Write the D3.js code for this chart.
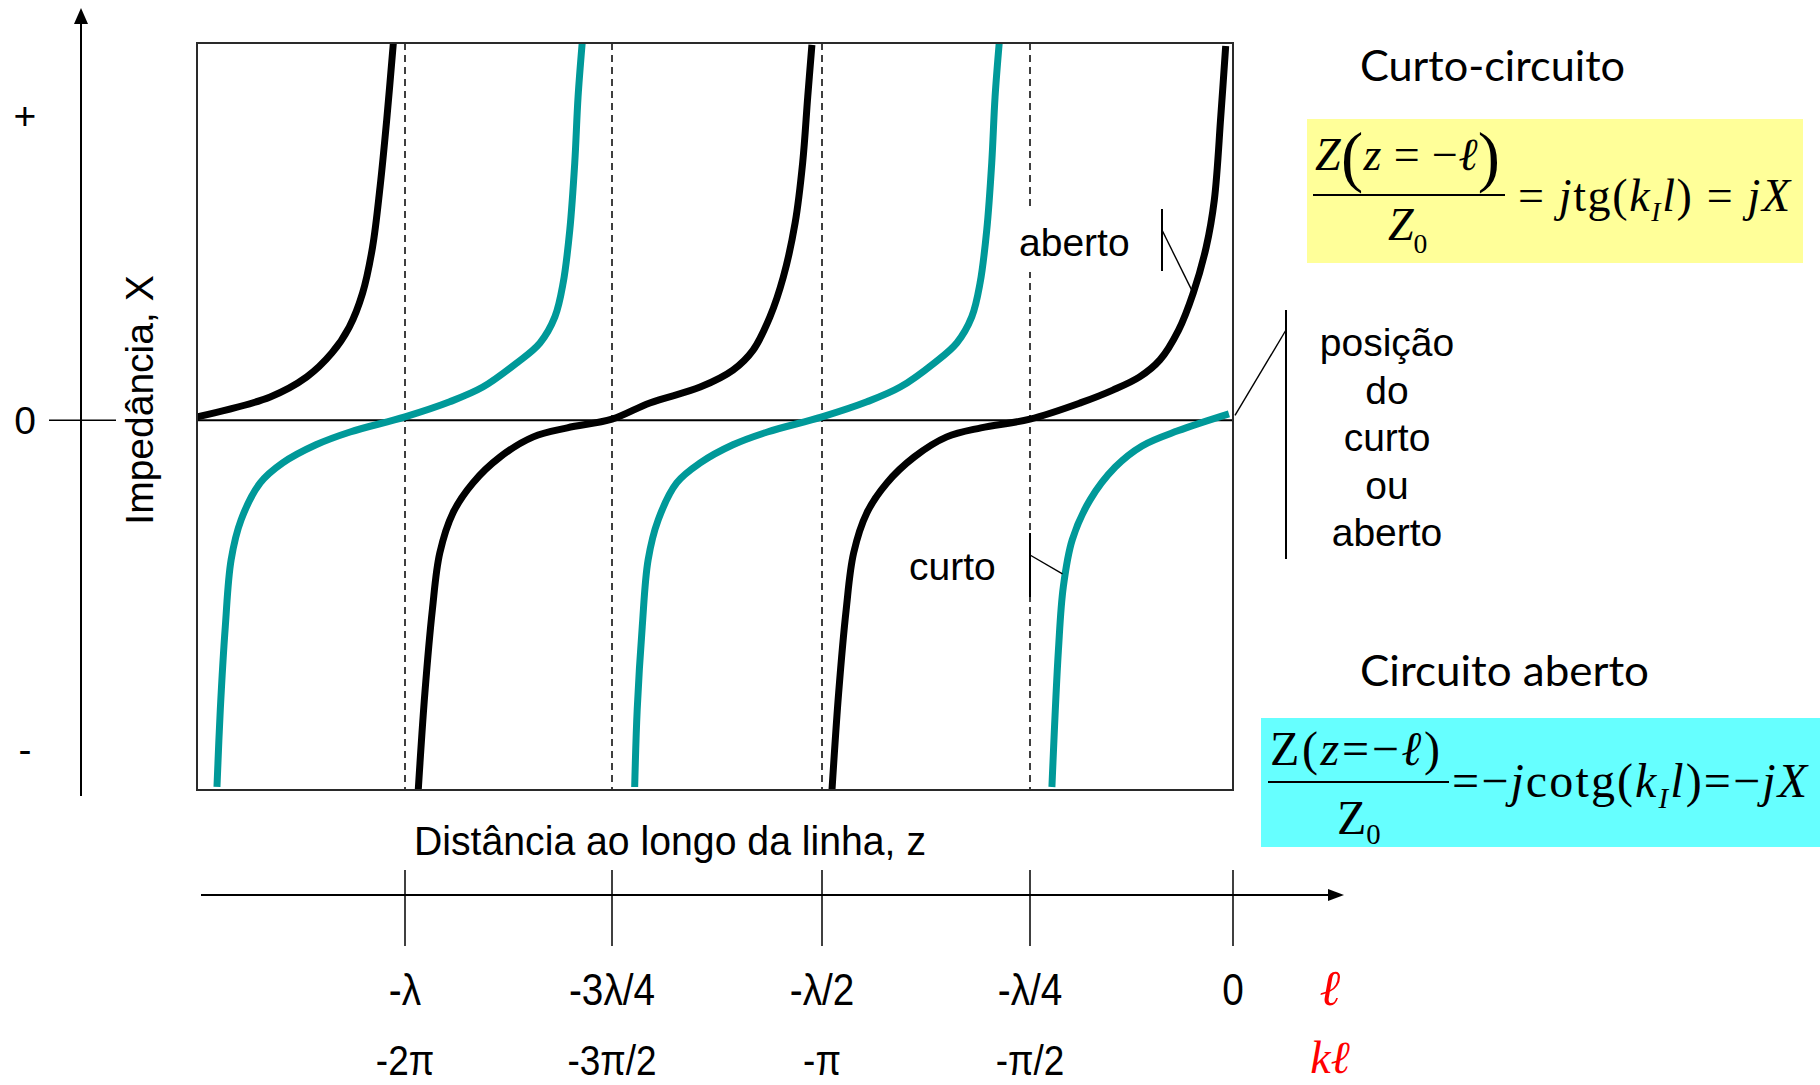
<!DOCTYPE html>
<html>
<head>
<meta charset="utf-8">
<script src="https://cdn.jsdelivr.net/npm/d3@7"></script>
<style>
  html, body { margin: 0; padding: 0; background: #fff; }
  svg { display: block; }
</style>
</head>
<body>
<svg id="chart" width="1820" height="1085"></svg>
<script>
// ---------------- DATA (z in wavelengths, X = normalised reactance) ----------------
const zBreaks = [-1.25, -1, -0.75, -0.5, -0.25, 0];
const zTicks = [-1, -0.75, -0.5, -0.25, 0];
const lambdaLabels = ["-λ", "-3λ/4", "-λ/2", "-λ/4", "0"];
const phaseLabels = ["-2π", "-3π/2", "-π", "-π/2", ""];
const yTickValues = [8.1, 0, -8.7];
const yTickLabels = ["+", "0", "-"];
const yDomain = [-9.8, 10];

// black curves ("aberto")
const aberto1 = [[-1.25,0.09],[-1.162,0.62],[-1.118,1.15],[-1.088,1.78],[-1.067,2.47],[-1.051,3.37],[-1.039,4.59],[-1.030,6.18],[-1.022,7.96],[-1.014,10.0]];
const aberto2 = [[-0.984,-9.8],[-0.976,-7.23],[-0.967,-5.03],[-0.958,-3.52],[-0.942,-2.45],[-0.918,-1.66],[-0.885,-0.97],[-0.845,-0.44],[-0.804,-0.20],[-0.75,0.03],[-0.705,0.46],[-0.645,0.88],[-0.606,1.33],[-0.582,1.86],[-0.562,2.74],[-0.546,3.80],[-0.532,5.23],[-0.523,6.83],[-0.517,8.57],[-0.512,9.95]];
const aberto3 = [[-0.488,-9.8],[-0.480,-7.23],[-0.471,-5.03],[-0.462,-3.52],[-0.446,-2.45],[-0.422,-1.66],[-0.389,-0.97],[-0.350,-0.44],[-0.309,-0.20],[-0.25,0.03],[-0.188,0.46],[-0.148,0.80],[-0.115,1.15],[-0.090,1.60],[-0.067,2.39],[-0.049,3.37],[-0.033,4.59],[-0.023,5.84],[-0.015,8.07],[-0.009,9.92]];

// teal curves ("curto")
const curto1 = [[-1.226,-9.72],[-1.222,-7.67],[-1.216,-5.47],[-1.209,-3.70],[-1.197,-2.64],[-1.174,-1.66],[-1.147,-1.13],[-1.107,-0.65],[-1.066,-0.31],[-1.0,0.09],[-0.946,0.49],[-0.906,0.88],[-0.865,1.52],[-0.837,2.05],[-0.819,2.74],[-0.809,3.64],[-0.801,5.04],[-0.795,6.82],[-0.791,8.57],[-0.786,10.0]];
const curto2 = [[-0.723,-9.72],[-0.720,-7.67],[-0.714,-5.47],[-0.707,-3.70],[-0.695,-2.64],[-0.673,-1.66],[-0.645,-1.13],[-0.606,-0.65],[-0.565,-0.31],[-0.5,0.09],[-0.446,0.49],[-0.406,0.88],[-0.365,1.52],[-0.338,2.05],[-0.320,2.74],[-0.310,3.64],[-0.302,5.04],[-0.296,6.82],[-0.292,8.57],[-0.287,10.0]];
const curto3 = [[-0.223,-9.72],[-0.215,-6.09],[-0.209,-4.42],[-0.198,-3.17],[-0.176,-2.11],[-0.145,-1.24],[-0.112,-0.68],[-0.068,-0.28],[-0.005,0.17]];

// annotation targets on the curves (data units)
const abertoTarget = [-0.049, 3.37];
const curtoTarget = [-0.21, -4.07];
const originTarget = [0, 0.13];

// ---------------- LAYOUT ----------------
const svg = d3.select("#chart");
const SANS = "'Liberation Sans', Arial, Helvetica, sans-serif";
const SERIF = "'Liberation Serif', 'Times New Roman', serif";
const BLACK = "#000";
const TEAL = "#009999";

const x = d3.scaleLinear().domain(zBreaks).range([197, 405, 612, 822, 1030, 1233]);
const y = d3.scaleLinear().domain(yDomain).range([790, 43]);
const [xL, xR] = [x(zBreaks[0]), x(0)];
const [yT, yB] = [y(yDomain[1]), y(yDomain[0])];

// plot box background
svg.append("rect").attr("x", xL).attr("y", yT).attr("width", xR - xL).attr("height", yB - yT)
  .attr("fill", "#fff");

// dashed quarter-wave lines
svg.append("g").selectAll("line").data(zTicks.filter(d => d < 0)).join("line")
  .attr("x1", d => x(d)).attr("x2", d => x(d)).attr("y1", yT).attr("y2", yB)
  .attr("stroke", BLACK).attr("stroke-width", 1.5).attr("stroke-dasharray", "7,5");

// zero line
svg.append("line").attr("x1", xL).attr("x2", xR).attr("y1", y(0)).attr("y2", y(0))
  .attr("stroke", BLACK).attr("stroke-width", 2);

// "aberto" label with white background
svg.append("rect").attr("x", 1014).attr("y", 208).attr("width", 118).attr("height", 64).attr("fill", "#fff");

// curves
const line = d3.line().x(d => x(d[0])).y(d => y(d[1])).curve(d3.curveCatmullRom.alpha(0.5));
const series = [
  { d: aberto1, c: BLACK }, { d: aberto2, c: BLACK }, { d: aberto3, c: BLACK },
  { d: curto1, c: TEAL }, { d: curto2, c: TEAL }, { d: curto3, c: TEAL }
];
svg.append("g").selectAll("path").data(series).join("path")
  .attr("d", s => line(s.d)).attr("fill", "none")
  .attr("stroke", s => s.c).attr("stroke-width", 7).attr("stroke-linecap", "butt")
  .attr("stroke-linejoin", "round");

// box border
svg.append("rect").attr("x", xL).attr("y", yT).attr("width", xR - xL).attr("height", yB - yT)
  .attr("fill", "none").attr("stroke", "#2a2a2a").attr("stroke-width", 2);

// ---- left vertical axis ----
svg.append("line").attr("x1", 81).attr("x2", 81).attr("y1", 796).attr("y2", 20)
  .attr("stroke", BLACK).attr("stroke-width", 2);
svg.append("path").attr("d", "M81,8 L74,24 L88,24 Z").attr("fill", BLACK);
svg.append("line").attr("x1", 49).attr("x2", 116).attr("y1", y(0)).attr("y2", y(0))
  .attr("stroke", BLACK).attr("stroke-width", 1.5);
svg.append("g").selectAll("text").data(yTickValues).join("text")
  .attr("x", 25).attr("y", d => y(d)).attr("dy", "0.36em")
  .attr("text-anchor", "middle").attr("font-family", SANS).attr("font-size", 39)
  .text((d, i) => yTickLabels[i]);
svg.append("text").attr("transform", "translate(153,400) rotate(-90)")
  .attr("text-anchor", "middle").attr("font-family", SANS).attr("font-size", 39)
  .text("Impedância, X");

// ---- bottom axis ----
const axY = 895;
svg.append("line").attr("x1", 201).attr("x2", 1330).attr("y1", axY).attr("y2", axY)
  .attr("stroke", BLACK).attr("stroke-width", 2);
svg.append("path").attr("d", `M1344,${axY} L1328,${axY - 6} L1328,${axY + 6} Z`).attr("fill", BLACK);
svg.append("g").selectAll("line").data(zTicks).join("line")
  .attr("x1", d => x(d)).attr("x2", d => x(d)).attr("y1", 870).attr("y2", 946)
  .attr("stroke", BLACK).attr("stroke-width", 1.5);
svg.append("g").selectAll("text").data(zTicks).join("text")
  .attr("transform", d => `translate(${x(d)},1005) scale(0.88,1)`)
  .attr("text-anchor", "middle").attr("font-family", SANS).attr("font-size", 44)
  .text((d, i) => lambdaLabels[i]);
svg.append("g").selectAll("text").data(zTicks.slice(0, 4)).join("text")
  .attr("transform", d => `translate(${x(d)},1075) scale(0.88,1)`)
  .attr("text-anchor", "middle").attr("font-family", SANS).attr("font-size", 42)
  .text((d, i) => phaseLabels[i]);
svg.append("text").attr("x", 1330).attr("y", 1005).attr("text-anchor", "middle")
  .attr("font-family", SERIF).attr("font-style", "italic").attr("font-size", 50).attr("fill", "#ff0000")
  .text("ℓ");
svg.append("text").attr("x", 1330).attr("y", 1073).attr("text-anchor", "middle")
  .attr("font-family", SERIF).attr("font-style", "italic").attr("font-size", 46).attr("fill", "#ff0000")
  .text("kℓ");
svg.append("text").attr("x", 414).attr("y", 855).attr("font-family", SANS).attr("font-size", 40)
  .attr("textLength", 512).attr("lengthAdjust", "spacingAndGlyphs")
  .text("Distância ao longo da linha, z");

// ---- annotations ----
const ann = svg.append("g").attr("stroke", BLACK).attr("fill", "none");
ann.append("line").attr("x1", 1162).attr("x2", 1162).attr("y1", 209).attr("y2", 271).attr("stroke-width", 2);
ann.append("line").attr("x1", 1162).attr("y1", 230).attr("x2", x(abertoTarget[0])).attr("y2", y(abertoTarget[1])).attr("stroke-width", 1.4);
ann.append("line").attr("x1", x(-0.25)).attr("x2", x(-0.25)).attr("y1", 533).attr("y2", 597).attr("stroke-width", 2);
ann.append("line").attr("x1", x(-0.25)).attr("y1", 555).attr("x2", x(curtoTarget[0])).attr("y2", y(curtoTarget[1])).attr("stroke-width", 1.4);
ann.append("line").attr("x1", 1286).attr("x2", 1286).attr("y1", 310).attr("y2", 559).attr("stroke-width", 2);
ann.append("line").attr("x1", 1286).attr("y1", 330).attr("x2", x(originTarget[0]) + 2).attr("y2", y(originTarget[1])).attr("stroke-width", 1.4);

svg.append("text").attr("x", 1019).attr("y", 256).attr("font-family", SANS).attr("font-size", 39).text("aberto");
svg.append("text").attr("x", 909).attr("y", 580).attr("font-family", SANS).attr("font-size", 39).text("curto");
const posLines = ["posição", "do", "curto", "ou", "aberto"];
svg.append("g").selectAll("text").data(posLines).join("text")
  .attr("x", 1387).attr("y", (d, i) => 356 + i * 47.6).attr("text-anchor", "middle")
  .attr("font-family", SANS).attr("font-size", 39).text(d => d);

// ---- titles ----
svg.append("text").attr("x", 1360).attr("y", 81).attr("font-family", "Lato, 'Open Sans', sans-serif")
  .attr("font-size", 43).attr("textLength", 265).attr("lengthAdjust", "spacingAndGlyphs").text("Curto-circuito");
svg.append("text").attr("x", 1360).attr("y", 686).attr("font-family", "Lato, 'Open Sans', sans-serif")
  .attr("font-size", 43).attr("textLength", 289).attr("lengthAdjust", "spacingAndGlyphs").text("Circuito aberto");

// ---- formula boxes ----
svg.append("rect").attr("x", 1307).attr("y", 119).attr("width", 496).attr("height", 144).attr("fill", "#ffff99");
svg.append("rect").attr("x", 1261).attr("y", 718).attr("width", 559).attr("height", 129).attr("fill", "#66ffff");

function mathText(px, py, size, width, parts, subOff) {
  const t = svg.append("text").attr("x", px).attr("y", py)
    .attr("font-family", SERIF).attr("font-size", size).attr("fill", BLACK);
  let off = 0;
  parts.forEach(([s, st]) => {
    let target = 0, fs = size;
    if (st.includes("s")) { target = size * (subOff || 0.28); fs = size * 0.6; }
    if (st.includes("b")) { target = size * 0.2; fs = size * 1.45; }
    t.append("tspan").attr("dy", target - off).attr("font-size", fs)
      .attr("font-style", st.includes("i") ? "italic" : "normal").text(s);
    off = target;
  });
  if (width) t.attr("textLength", width).attr("lengthAdjust", "spacing");
  return t;
}

// yellow (short circuit)
mathText(1315, 170, 46, 185, [["Z", "i"], ["(", "b"], ["z", "i"], [" = −", ""], ["ℓ", "i"], [")", "b"]]);
svg.append("line").attr("x1", 1313).attr("x2", 1505).attr("y1", 195).attr("y2", 195).attr("stroke", BLACK).attr("stroke-width", 2);
mathText(1388, 240, 46, null, [["Z", "i"], ["0", "s"]]);
mathText(1518, 211, 46, 272, [["= ", ""], ["j", "i"], ["tg(", ""], ["k", "i"], ["I", "is"], ["l", "i"], [") = ", ""], ["j", "i"], ["X", "i"]], 0.22);

// cyan (open circuit)
mathText(1270, 765, 48, 170, [["Z", ""], ["(", ""], ["z", "i"], ["=−", ""], ["ℓ", "i"], [")", ""]]);
svg.append("line").attr("x1", 1268).attr("x2", 1449).attr("y1", 782).attr("y2", 782).attr("stroke", BLACK).attr("stroke-width", 2);
mathText(1337, 834, 48, null, [["Z", ""], ["0", "s"]], 0.2);
mathText(1452, 797, 48, 355, [["=−", ""], ["j", "i"], ["cotg(", ""], ["k", "i"], ["I", "is"], ["l", "i"], [")=−", ""], ["j", "i"], ["X", "i"]], 0.22);
</script>
</body>
</html>
